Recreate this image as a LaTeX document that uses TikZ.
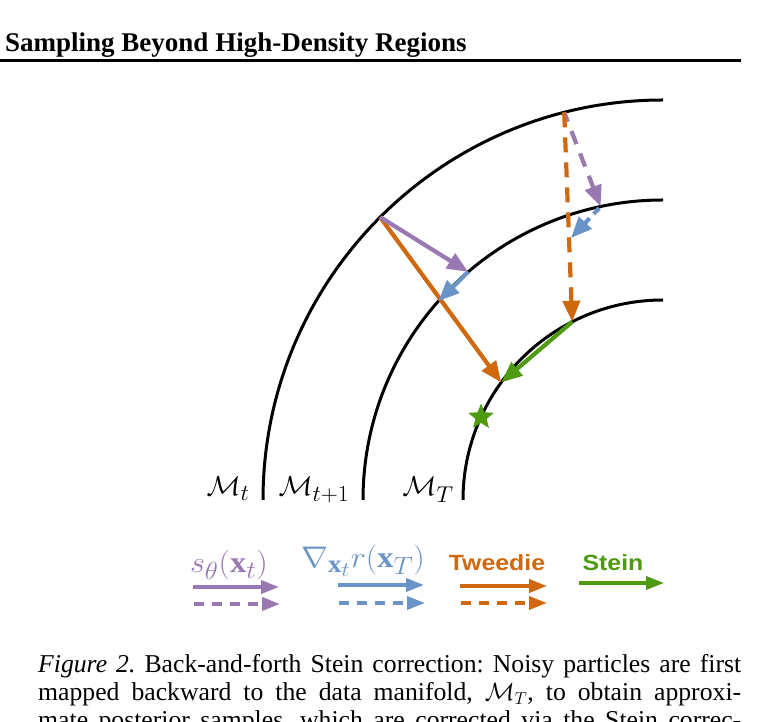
\documentclass[tikz,border=0pt]{standalone}
\usepackage{fontspec}
\setmainfont{Liberation Serif}
\newfontfamily\lsans{Liberation Sans}
\usetikzlibrary{arrows.meta,shapes.geometric,calc}
\definecolor{cpurple}{HTML}{9A78B2}
\definecolor{cblue}{HTML}{6A93C8}
\definecolor{corange}{HTML}{D0680E}
\definecolor{cgreen}{HTML}{4E9A10}
\begin{document}
\frenchspacing
\begin{tikzpicture}[x=1pt,y=1pt,
  manifold/.style={line width=3pt},
  vec/.style={line width=4.2pt,-{Triangle[length=21pt,width=17pt]}},
  dvec/.style={vec,dash pattern=on 14pt off 9pt},
  lvec/.style={line width=3.6pt,-{Triangle[length=18pt,width=13pt]}},
  ldvec/.style={lvec,dash pattern=on 10pt off 8pt},
  mlabel/.style={anchor=base,font=\fontsize{24.88}{28}\selectfont,xscale=1.14,yscale=1.1},
  leglabel/.style={anchor=base,font=\fontsize{24.88}{28}\selectfont,xscale=1.3,yscale=1.2},
  legsans/.style={anchor=base,font=\lsans\bfseries\fontsize{22}{25}\selectfont,xscale=1.13},
  capline/.style={anchor=base west,inner sep=0pt,font=\fontsize{25.7}{28}\selectfont},
]
\useasboundingbox (0,0) rectangle (779,722);
% header
\node[anchor=base west,inner sep=0pt,font=\bfseries\fontsize{27}{30}\selectfont] (hdr) at (5,670) {Sampling Beyond High-Density Regions};
\coordinate (rl) at (0,661);
\coordinate (rr) at (741,661);
\draw[line width=3pt] (rl) -- (rr);
% manifolds
\coordinate (O) at (663,222);
\draw[manifold] ($(O)+(180:400)$) arc[start angle=180,end angle=90,radius=400];
\draw[manifold] ($(O)+(180:300)$) arc[start angle=180,end angle=90,radius=300];
\draw[manifold] ($(O)+(180:200)$) arc[start angle=180,end angle=90,radius=200];
% points
\coordinate (A) at ($(O)+(135:400)$);
\coordinate (P1) at ($(O)+(130.5:300)$);
\coordinate (P2) at ($(O)+(138.5:300)$);
\coordinate (T1) at ($(O)+(144:200)$);
\coordinate (C) at ($(O)+(117:200)$);
\coordinate (B) at ($(O)+(104.3:400)$);
\coordinate (Q) at ($(O)+(102:300)$);
\coordinate (Q2) at (571,484);
% dashed path
\draw[dvec,cpurple,dash pattern=on 14pt off 10pt,dash phase=4pt] (B) -- (Q);
\draw[dvec,corange,dash pattern=on 15pt off 10pt] (B) -- (C);
\draw[dvec,cblue,dash pattern=on 8pt off 6pt,dash phase=-2pt] (Q) -- (Q2);
% solid path
\draw[vec,corange] (A) -- (T1);
\draw[vec,cpurple] (A) -- (P1);
\draw[vec,cblue] (P1) -- (P2);
\draw[vec,cgreen] (C) -- (T1);
\node[star,star points=5,star point ratio=2.3,fill=cgreen,minimum size=27pt,inner sep=0pt] (st) at ($(O)+(155.5:200)$) {};
% manifold labels
\node[mlabel] (mt) at (228,226) {$\mathcal{M}_t$};
\node[mlabel] (mt1) at (314,226) {$\mathcal{M}_{t+1}$};
\node[mlabel] (mT) at (428,226) {$\mathcal{M}_T$};
% legend
\node[leglabel,text=cpurple] (l1) at (229,149) {$s_\theta(\mathbf{x}_t)$};
\node[leglabel,text=cblue] (l2) at (363,154) {$\nabla_{\mathbf{x}_t} r(\mathbf{x}_T)$};
\node[legsans,text=corange] (l3) at (497,151) {Tweedie};
\node[legsans,text=cgreen] (l4) at (613,151) {Stein};
\coordinate (a1s) at (193,135); \coordinate (a1e) at (279,135);
\coordinate (b1s) at (194,118); \coordinate (b1e) at (280,118);
\coordinate (a2s) at (338,137); \coordinate (a2e) at (424,137);
\coordinate (b2s) at (339,119); \coordinate (b2e) at (425,119);
\coordinate (a3s) at (460,136); \coordinate (a3e) at (547,136);
\coordinate (b3s) at (461,119); \coordinate (b3e) at (547,119);
\coordinate (a4s) at (579,139); \coordinate (a4e) at (664,139);
\draw[lvec,cpurple] (a1s) -- (a1e);
\draw[ldvec,cpurple] (b1s) -- (b1e);
\draw[lvec,cblue] (a2s) -- (a2e);
\draw[ldvec,cblue] (b2s) -- (b2e);
\draw[lvec,corange] (a3s) -- (a3e);
\draw[ldvec,corange] (b3s) -- (b3e);
\draw[lvec,cgreen] (a4s) -- (a4e);
% caption
\begin{scope}
\clip (0,0) rectangle (779,722);
\node[capline] (cap1) at (38,49) {\makebox[703pt][s]{\textit{Figure 2.}\ Back-and-forth Stein correction: Noisy particles are first}};
\node[capline] (cap2) at (38,21) {\makebox[703pt][s]{mapped backward to the data manifold, $\mathcal{M}_T$, to obtain approxi-}};
\node[capline] (cap3) at (38,-7) {\makebox[703pt][s]{mate posterior samples, which are corrected via the Stein correc-}};
\end{scope}
\end{tikzpicture}
\end{document}
